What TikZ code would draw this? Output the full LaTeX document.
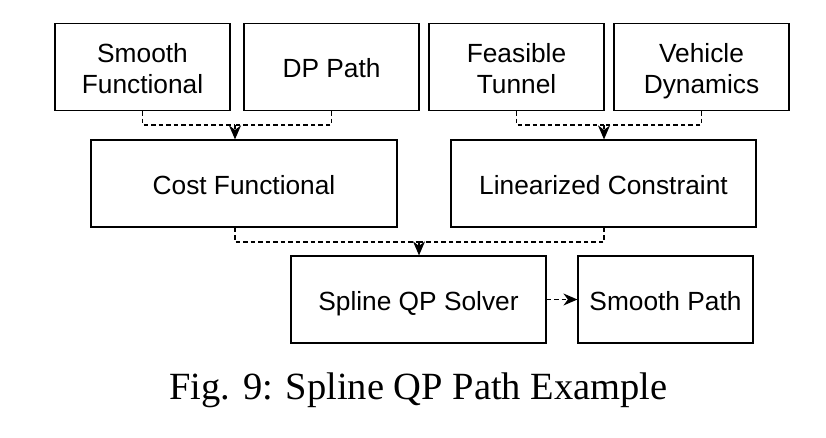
\documentclass[tikz,border=0pt]{standalone}
\usepackage{fontspec}
\setmainfont{Liberation Serif}
\newfontfamily\boxfont{Liberation Sans}
\usetikzlibrary{arrows.meta}
\newcommand{\bstrut}{\rule[-4.5pt]{0pt}{31pt}}
\tikzset{
  blk/.style={draw=black, line width=1.2pt, rectangle, minimum height=87pt, align=center,
    font=\boxfont\fontsize{26.3}{31}\selectfont, inner sep=0pt},
  conn/.style={line width=1.3pt, dash pattern=on 4.5pt off 3pt},
  tip/.style={-{Stealth[length=14pt,width=12pt,inset=4.5pt]}}
}
\begin{document}
\begin{tikzpicture}[x=1pt,y=-1pt]
\useasboundingbox (0,0) rectangle (826,438);
\node[blk, minimum width=175pt] (sf) at (142.5,67) {\bstrut Smooth\\\bstrut Functional};
\node[blk, minimum width=175pt] (dp) at (331.5,67) {\bstrut DP Path};
\node[blk, minimum width=175pt] (ft) at (516.5,67) {\bstrut Feasible\\\bstrut Tunnel};
\node[blk, minimum width=175pt] (vd) at (701.5,67) {\bstrut Vehicle\\\bstrut Dynamics};
\node[blk, minimum width=306pt] (cf) at (244,183.5) {\bstrut Cost Functional};
\node[blk, minimum width=305pt] (lc) at (603.5,183.5) {\bstrut Linearized Constraint};
\node[blk, minimum width=255pt] (qp) at (418.5,299.5) {\bstrut Spline QP Solver};
\node[blk, minimum width=175pt] (sp) at (665.5,299.5) {\bstrut Smooth Path};
\coordinate (jl) at (235,125);
\coordinate (jr) at (604,125);
\coordinate (jb) at (419,242);
\draw[conn] (sf.south) |- (jl);
\draw[conn] (dp.south) |- (jl);
\draw[conn,tip] (jl) -- (jl |- cf.north);
\draw[conn] (ft.south) |- (jr);
\draw[conn] (vd.south) |- (jr);
\draw[conn,tip] (jr) -- (jr |- lc.north);
\draw[conn] (cf.south -| jl) |- (jb);
\draw[conn] (lc.south -| jr) |- (jb);
\draw[conn,tip] (jb) -- (jb |- qp.north);
\draw[conn,tip] (qp.east) -- (sp.west);
\node[anchor=base, font=\fontsize{38.5}{45}\selectfont, inner sep=0pt] (cap) at (418.5,399) {Fig. 9: Spline QP Path Example};
\end{tikzpicture}
\end{document}
